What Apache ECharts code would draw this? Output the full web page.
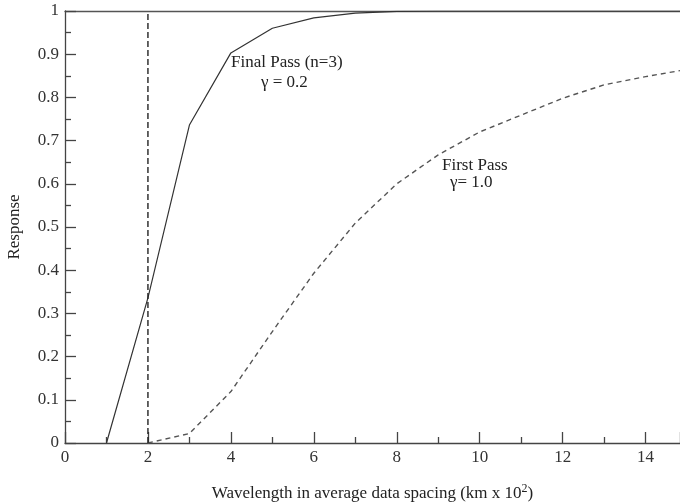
<!DOCTYPE html>
<html>
<head>
<meta charset="utf-8">
<script src="https://cdn.jsdelivr.net/npm/echarts@6/dist/echarts.min.js"></script>
<style>html,body{margin:0;padding:0;background:#fff}#c{width:680px;height:504px}</style>
</head>
<body>
<div id="c"></div>
<script>
var finalPassX = [1, 2, 3, 4, 5, 6, 7, 8, 9, 10, 11, 12, 13, 14, 14.83];
var finalPassY = [0, 0.336, 0.736, 0.903, 0.96, 0.984, 0.995, 0.999, 1.0, 1.0, 1.0, 1.0, 1.0, 1.0, 1.0];
var firstPassX = [2, 3, 4, 5, 6, 7, 8, 9, 10, 11, 12, 13, 14, 14.83];
var firstPassY = [0, 0.022, 0.119, 0.258, 0.393, 0.509, 0.60, 0.667, 0.72, 0.759, 0.798, 0.829, 0.848, 0.862];
var cutoffX = [2, 2];
var cutoffY = [0, 0.993];
var xTitle = 'Wavelength in average data spacing (km x 10';
var yTitle = 'Response';

function pairs(xs, ys) { return xs.map(function (x, i) { return [x, ys[i]]; }); }

var FONT = 'Liberation Serif';
var chart = echarts.init(document.getElementById('c'));
chart.setOption({
  animation: false,
  backgroundColor: '#fff',
  grid: { left: 65, top: 11, right: 0, bottom: 61, containLabel: false, outerBoundsMode: 'none' },
  xAxis: [{
    type: 'value', min: 0, max: 14.83, interval: 2,
    name: '{t|' + xTitle + '}{s|2}{t|)}', nameLocation: 'middle', nameGap: 40,
    nameTextStyle: { rich: { t: { fontFamily: FONT, fontSize: 17, color: '#222' }, s: { fontFamily: FONT, fontSize: 12, color: '#222', verticalAlign: 'top', padding: [0, 0, 9, 0] } } },
    axisLine: { lineStyle: { color: '#444', width: 1.3 } },
    axisTick: { inside: true, length: 11, lineStyle: { color: '#444', width: 1.3 } },
    minorTick: { show: true, splitNumber: 2, length: 6, lineStyle: { color: '#444', width: 1.3 } },
    splitLine: { show: false },
    axisLabel: { fontFamily: FONT, fontSize: 17, color: '#333', margin: 6, showMaxLabel: false,
      formatter: function (v) { return (v % 2 === 0) ? String(v) : ''; } }
  }, {
    type: 'value', min: 0, max: 14.83, position: 'top',
    axisLine: { show: true, onZero: false, lineStyle: { color: '#555', width: 1.3 } },
    axisTick: { show: false }, axisLabel: { show: false }, splitLine: { show: false }
  }],
  yAxis: {
    type: 'value', min: 0, max: 1, interval: 0.1,
    name: yTitle, nameLocation: 'middle', nameGap: 42,
    nameTextStyle: { fontFamily: FONT, fontSize: 17, color: '#222' },
    axisLine: { show: true, lineStyle: { color: '#444', width: 1.3 } },
    axisTick: { inside: true, length: 11, lineStyle: { color: '#444', width: 1.3 } },
    minorTick: { show: true, splitNumber: 2, length: 6, lineStyle: { color: '#444', width: 1.3 } },
    splitLine: { show: false },
    axisLabel: { fontFamily: FONT, fontSize: 17, color: '#333', margin: 6,
      formatter: function (v) { return String(Math.round(v * 10) / 10); } }
  },
  series: [{
    type: 'line', data: pairs(finalPassX, finalPassY), showSymbol: false, symbol: 'none',
    lineStyle: { color: '#333', width: 1.2 }
  }, {
    type: 'line', data: pairs(firstPassX, firstPassY), showSymbol: false, symbol: 'none',
    lineStyle: { color: '#555', width: 1.4, type: [5, 4] }
  }, {
    type: 'line', data: pairs(cutoffX, cutoffY), showSymbol: false, symbol: 'none',
    lineStyle: { color: '#222', width: 1.4, type: [6, 3] }
  }],
  graphic: [
    { type: 'text', left: 231, top: 54, style: { text: 'Final Pass (n=3)', font: '17px "Liberation Serif"', fill: '#222' } },
    { type: 'text', left: 261, top: 74, style: { text: 'γ = 0.2', font: '17px "Liberation Serif"', fill: '#222' } },
    { type: 'text', left: 442, top: 157, style: { text: 'First Pass', font: '17px "Liberation Serif"', fill: '#222' } },
    { type: 'text', left: 450, top: 174, style: { text: 'γ= 1.0', font: '17px "Liberation Serif"', fill: '#222' } }
  ]
});
</script>
</body>
</html>
